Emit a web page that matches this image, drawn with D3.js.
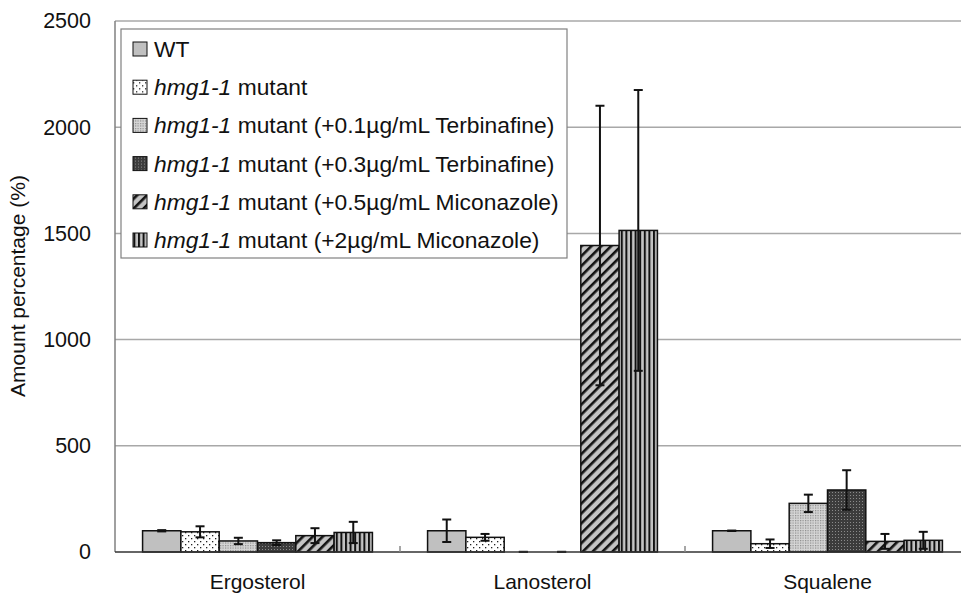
<!DOCTYPE html>
<html>
<head>
<meta charset="utf-8">
<script src="https://cdn.jsdelivr.net/npm/d3@7"></script>
<style>
  body { margin: 0; background: white; }
  svg { display: block; font-family: "Liberation Sans", Arial, sans-serif; }
</style>
</head>
<body>
<div id="container"></div>
<script>
var width = 961,
    height = 595;

var categories = ["Ergosterol", "Lanosterol", "Squalene"];
var series = ["WT",
              "mutant",
              "mutant (+0.1\u00b5g/mL Terbinafine)",
              "mutant (+0.3\u00b5g/mL Terbinafine)",
              "mutant (+0.5\u00b5g/mL Miconazole)",
              "mutant (+2\u00b5g/mL Miconazole)"];
var italic_prefix = ["", "hmg1-1", "hmg1-1", "hmg1-1", "hmg1-1", "hmg1-1"];

// amount percentage per series, order = categories
var wt_values     = [100, 100, 100];
var hmg_values    = [95, 69, 39];
var terb01_values = [52, 0, 229];
var terb03_values = [44, 0, 292];
var mic05_values  = [77, 1443, 50];
var mic2_values   = [92, 1514, 55];

var wt_err     = [3, 53, 1];
var hmg_err    = [26, 16, 20];
var terb01_err = [15, 1, 41];
var terb03_err = [11, 1, 93];
var mic05_err  = [35, 658, 35];
var mic2_err   = [50, 661, 40];

var y_ticks = [0, 500, 1000, 1500, 2000, 2500];

var values = [wt_values, hmg_values, terb01_values, terb03_values, mic05_values, mic2_values];
var errors = [wt_err, hmg_err, terb01_err, terb03_err, mic05_err, mic2_err];
var fills = ["#c0c0c0", "url(#p_dots)", "url(#p_light)", "url(#p_dark)", "url(#p_diag)", "url(#p_vert)"];

var svg = d3.select("#container")
            .append("svg")
            .attr("width", width)
            .attr("height", height);

// patterns
var defs = svg.append("defs");

var pd = defs.append("pattern").attr("id", "p_dots")
  .attr("patternUnits", "userSpaceOnUse").attr("width", 6).attr("height", 6);
pd.append("rect").attr("width", 6).attr("height", 6).attr("fill", "white");
pd.append("rect").attr("x", 1).attr("y", 1).attr("width", 1.3).attr("height", 1.3).attr("fill", "#222");
pd.append("rect").attr("x", 4).attr("y", 4).attr("width", 1.3).attr("height", 1.3).attr("fill", "#222");

var pl = defs.append("pattern").attr("id", "p_light")
  .attr("patternUnits", "userSpaceOnUse").attr("width", 2.5).attr("height", 2.5);
pl.append("rect").attr("width", 2.5).attr("height", 2.5).attr("fill", "#d6d6d6");
pl.append("rect").attr("width", 1.2).attr("height", 1.2).attr("fill", "#8a8a8a");

var pk = defs.append("pattern").attr("id", "p_dark")
  .attr("patternUnits", "userSpaceOnUse").attr("width", 3).attr("height", 3);
pk.append("rect").attr("width", 3).attr("height", 3).attr("fill", "#3c3c3c");
pk.append("rect").attr("width", 1).attr("height", 1).attr("fill", "#8a8a8a");

var pg = defs.append("pattern").attr("id", "p_diag")
  .attr("patternUnits", "userSpaceOnUse").attr("width", 7).attr("height", 7)
  .attr("patternTransform", "rotate(45)");
pg.append("rect").attr("width", 7).attr("height", 7).attr("fill", "#c4c4c4");
pg.append("rect").attr("width", 2.6).attr("height", 7).attr("fill", "#111");

var pv = defs.append("pattern").attr("id", "p_vert")
  .attr("patternUnits", "userSpaceOnUse").attr("width", 4.6).attr("height", 4);
pv.append("rect").attr("width", 4.6).attr("height", 4).attr("fill", "#c4c4c4");
pv.append("rect").attr("width", 2).attr("height", 4).attr("fill", "#111");

// scales
var x = d3.scaleBand().domain(categories).range([115, 970]).padding(0);
var xs = d3.scaleBand().domain(d3.range(series.length))
  .range([0, x.bandwidth()]).paddingInner(0).paddingOuter(0.72);
var y = d3.scaleLinear().domain([0, 2500]).range([552, 21]);

// grid
svg.append("g").selectAll("line")
  .data(y_ticks.filter(function(d){ return d > 0; }))
  .enter().append("line")
  .attr("x1", 115).attr("x2", 970)
  .attr("y1", function(d){ return y(d); })
  .attr("y2", function(d){ return y(d); })
  .attr("stroke", "#a8a8a8")
  .attr("stroke-width", 1.5);

// y axis
var yAxis = d3.axisLeft(y).tickValues(y_ticks).tickFormat(d3.format("d")).tickSize(0).tickPadding(24);
var yg = svg.append("g").attr("transform", "translate(115,0)").call(yAxis);
yg.select(".domain").remove();
yg.selectAll("text").attr("font-size", 21.5).attr("fill", "#111")
  .attr("font-family", "Liberation Sans, Arial, sans-serif");

svg.append("line")
  .attr("x1", 115).attr("x2", 115).attr("y1", y(2500)).attr("y2", y(0))
  .attr("stroke", "#808080").attr("stroke-width", 1.5);

svg.append("text")
  .attr("transform", "translate(25,286) rotate(-90)")
  .attr("text-anchor", "middle")
  .attr("font-size", 21)
  .attr("fill", "#111")
  .text("Amount percentage (%)");

// bars
var groups = svg.append("g").selectAll("g")
  .data(categories)
  .enter().append("g")
  .attr("transform", function(d){ return "translate(" + x(d) + ",0)"; });

groups.each(function(cat, ci){
  var g = d3.select(this);
  var rows = series.map(function(s, si){ return {si: si, v: values[si][ci], e: errors[si][ci]}; });

  g.selectAll("rect.bar")
    .data(rows.filter(function(d){ return d.v > 0; }))
    .enter().append("rect")
    .attr("class", "bar")
    .attr("x", function(d){ return xs(d.si); })
    .attr("width", xs.bandwidth())
    .attr("y", function(d){ return y(d.v); })
    .attr("height", function(d){ return y(0) - y(d.v); })
    .attr("fill", function(d){ return fills[d.si]; })
    .attr("stroke", "#111")
    .attr("stroke-width", 1.5);

  var eb = g.selectAll("g.err")
    .data(rows)
    .enter().append("g")
    .attr("class", "err")
    .attr("stroke", "#111")
    .attr("stroke-width", 2);

  eb.append("line")
    .attr("x1", function(d){ return xs(d.si) + xs.bandwidth() / 2; })
    .attr("x2", function(d){ return xs(d.si) + xs.bandwidth() / 2; })
    .attr("y1", function(d){ return y(d.v + d.e); })
    .attr("y2", function(d){ return y(Math.max(0, d.v - d.e)); });

  [1, -1].forEach(function(sign){
    eb.append("line")
      .attr("x1", function(d){ return xs(d.si) + xs.bandwidth() / 2 - 4.5; })
      .attr("x2", function(d){ return xs(d.si) + xs.bandwidth() / 2 + 4.5; })
      .attr("y1", function(d){ return y(Math.max(0, d.v + sign * d.e)); })
      .attr("y2", function(d){ return y(Math.max(0, d.v + sign * d.e)); });
  });
});

// x axis baseline, ticks, labels
svg.append("line")
  .attr("x1", 115).attr("x2", 970).attr("y1", y(0)).attr("y2", y(0))
  .attr("stroke", "#333").attr("stroke-width", 1.5);

svg.append("g").selectAll("line")
  .data(categories.slice(1))
  .enter().append("line")
  .attr("x1", function(d){ return x(d); })
  .attr("x2", function(d){ return x(d); })
  .attr("y1", y(0)).attr("y2", y(0) - 6)
  .attr("stroke", "#888").attr("stroke-width", 1.5);

svg.append("g").selectAll("text")
  .data(categories)
  .enter().append("text")
  .attr("x", function(d){ return x(d) + x.bandwidth() / 2; })
  .attr("y", 589)
  .attr("text-anchor", "middle")
  .attr("font-size", 21)
  .attr("fill", "#111")
  .text(function(d){ return d; });

// legend
var legend = svg.append("g").attr("id", "legend");
legend.append("rect")
  .attr("x", 121).attr("y", 29).attr("width", 446).attr("height", 229)
  .attr("fill", "white").attr("stroke", "#808080").attr("stroke-width", 1.2);

var items = legend.selectAll("g.item")
  .data(series)
  .enter().append("g")
  .attr("class", "item")
  .attr("transform", function(d, i){ return "translate(0," + (49 + i * 38.2) + ")"; });

items.append("rect")
  .attr("x", 133).attr("y", -7).attr("width", 14).attr("height", 14)
  .attr("fill", function(d, i){ return fills[i]; })
  .attr("stroke", "#111").attr("stroke-width", 1);

var lt = items.append("text")
  .attr("x", 154).attr("y", 8)
  .attr("font-size", 22.8)
  .attr("fill", "#111");
lt.append("tspan")
  .attr("font-style", "italic")
  .text(function(d, i){ return italic_prefix[i] ? italic_prefix[i] + " " : ""; });
lt.append("tspan")
  .text(function(d){ return d; });
</script>
</body>
</html>
